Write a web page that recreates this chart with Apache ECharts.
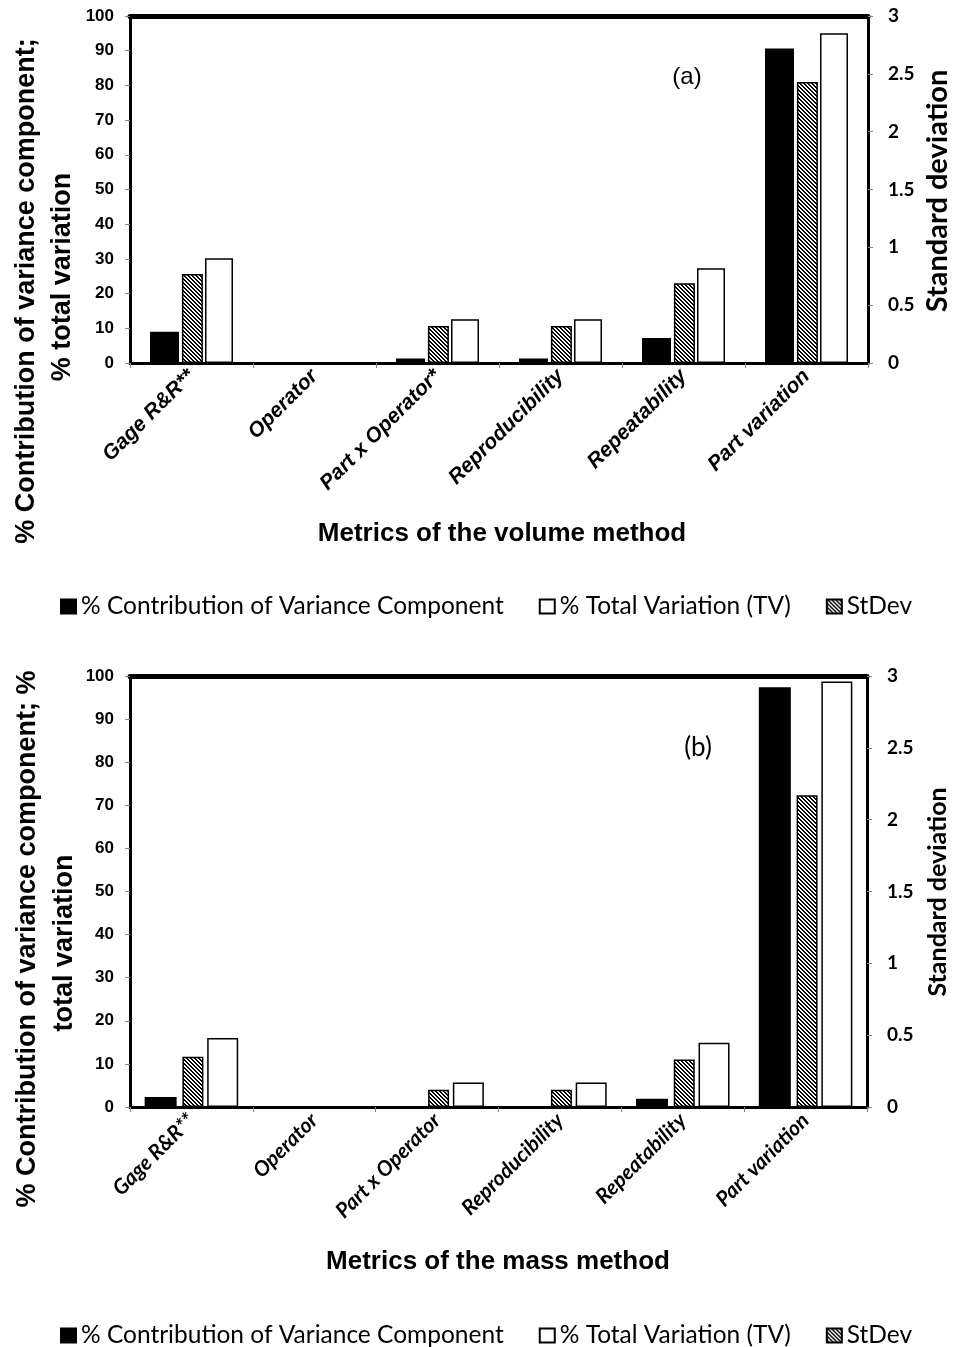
<!DOCTYPE html>
<html>
<head>
<meta charset="utf-8">
<script src="https://cdn.jsdelivr.net/npm/echarts@6/dist/echarts.min.js"></script>
<style>
  html, body { margin: 0; padding: 0; background: #fff; }
  #chart { width: 953px; height: 1347px; }
</style>
</head>
<body>
<div id="chart"></div>
<script>
// categories
const catsVolume = ['Gage R&R**', 'Operator', 'Part x Operator*', 'Reproducibility', 'Repeatability', 'Part variation'];
const catsMass = ['Gage R&R**', 'Operator', 'Part x Operator', 'Reproducibility', 'Repeatability', 'Part variation'];

// (a) volume method
const contribVolume = [9.0, 0, 1.3, 1.3, 7.2, 90.6];
const tvVolume = [30.2, 0, 12.6, 12.6, 27.3, 95.0];
const sdVolume = [0.77, 0, 0.32, 0.32, 0.69, 2.43];

// (b) mass method
const contribMass = [2.3, 0, 0, 0, 1.9, 97.4];
const tvMass = [16.0, 0, 5.7, 5.7, 14.9, 98.7];
const sdMass = [0.35, 0, 0.12, 0.12, 0.33, 2.17];

// axis ticks
const pctTicks = [0, 10, 20, 30, 40, 50, 60, 70, 80, 90, 100];
const sdTicks = [0, 0.5, 1, 1.5, 2, 2.5, 3];

const NAME_CONTRIB = '% Contribution of Variance Component';
const NAME_TV = '% Total Variation (TV)';
const NAME_SD = 'StDev';

const ARIAL = '"Liberation Sans", Arial, sans-serif';
const CALIBRI = 'Lato, "Open Sans", sans-serif';

// diagonal hatch for the StDev bars
const hatch = document.createElement('canvas');
hatch.width = 4;
hatch.height = 4;
const hctx = hatch.getContext('2d');
hctx.fillStyle = '#fff';
hctx.fillRect(0, 0, 4, 4);
hctx.fillStyle = '#000';
for (let i = 0; i < 4; i++) {
    hctx.fillRect(i, i, 1, 1);
    hctx.fillRect((i + 1) % 4, i, 1, 1);
}
const hatchFill = { image: hatch, repeat: 'repeat' };

const chart = echarts.init(document.getElementById('chart'));

const tickStyle = { show: true, length: 5, lineStyle: { color: '#888', width: 1 } };

function pctAxis(gridIndex) {
    return {
        type: 'value', gridIndex, position: 'left',
        min: pctTicks[0], max: pctTicks[pctTicks.length - 1], interval: pctTicks[1] - pctTicks[0],
        axisLine: { show: true, lineStyle: { color: '#000', width: 3 } },
        axisTick: tickStyle,
        splitLine: { show: false },
        axisLabel: { margin: 16, color: '#000', fontFamily: ARIAL, fontWeight: 'bold', fontSize: 17 }
    };
}

function sdAxis(gridIndex) {
    return {
        type: 'value', gridIndex, position: 'right',
        min: sdTicks[0], max: sdTicks[sdTicks.length - 1], interval: sdTicks[1] - sdTicks[0],
        axisLine: { show: true, lineStyle: { color: '#000', width: 3 } },
        axisTick: tickStyle,
        splitLine: { show: false },
        axisLabel: { margin: 20, color: '#000', fontFamily: CALIBRI, fontWeight: 'bold', fontSize: 19 }
    };
}

function catAxis(gridIndex, cats, font, size) {
    return {
        type: 'category', gridIndex, position: 'bottom', data: cats,
        axisLine: { show: true, onZero: false, lineStyle: { color: '#000', width: 3 } },
        axisTick: tickStyle,
        axisLabel: {
            interval: 0, rotate: 45, margin: 10, color: '#000',
            fontFamily: font, fontWeight: 'bold', fontStyle: 'italic', fontSize: size
        }
    };
}

function topAxis(gridIndex, cats) {
    return {
        type: 'category', gridIndex, position: 'top', data: cats,
        axisLine: { show: true, onZero: false, lineStyle: { color: '#000', width: 5 } },
        axisTick: { show: false }, axisLabel: { show: false }
    };
}

function bars(xi, pctYi, sdYi, contrib, sd, tv, widths, gap) {
    const border = { borderColor: '#000', borderWidth: 1.5 };
    return [
        { name: NAME_CONTRIB, type: 'bar', xAxisIndex: xi, yAxisIndex: pctYi, data: contrib,
          barWidth: widths[0], barGap: gap, itemStyle: Object.assign({ color: '#000' }, border) },
        { name: NAME_SD, type: 'bar', xAxisIndex: xi, yAxisIndex: sdYi, data: sd,
          barWidth: widths[1], barGap: gap, itemStyle: Object.assign({ color: hatchFill }, border) },
        { name: NAME_TV, type: 'bar', xAxisIndex: xi, yAxisIndex: pctYi, data: tv,
          barWidth: widths[2], barGap: gap, itemStyle: Object.assign({ color: '#fff' }, border) }
    ];
}

function legend(top) {
    return {
        top, left: 55, itemWidth: 15, itemHeight: 14, itemGap: 35, selectedMode: false,
        icon: 'rect',
        data: [NAME_CONTRIB, NAME_TV, NAME_SD],
        textStyle: { fontFamily: CALIBRI, fontSize: 24.5, color: '#000' }
    };
}

function vText(x, y, text, font, size, weight) {
    return {
        type: 'text', x, y, rotation: Math.PI / 2,
        style: { text, fontFamily: font, fontSize: size, fontWeight: weight || 'bold',
                 fill: '#000', textAlign: 'center', textVerticalAlign: 'middle' }
    };
}

function hText(x, y, text, font, size, weight) {
    return {
        type: 'text', x, y,
        style: { text, fontFamily: font, fontSize: size, fontWeight: weight || 'bold',
                 fill: '#000', textAlign: 'center', textVerticalAlign: 'middle' }
    };
}

const option = {
    animation: false,
    backgroundColor: '#fff',
    grid: [
        { left: 130, top: 16, width: 738, height: 347 },
        { left: 130, top: 676, width: 737, height: 431 }
    ],
    xAxis: [
        catAxis(0, catsVolume, ARIAL, 21),
        topAxis(0, catsVolume),
        catAxis(1, catsMass, CALIBRI, 21),
        topAxis(1, catsMass)
    ],
    yAxis: [pctAxis(0), sdAxis(0), pctAxis(1), sdAxis(1)],
    legend: [legend(589), legend(1318)],
    series: [
        ...bars(0, 0, 1, contribVolume, sdVolume, tvVolume, [29, 21, 28], '10%'),
        ...bars(2, 2, 3, contribMass, sdMass, tvMass, [32, 21, 31], '18%')
    ],
    graphic: [
        vText(27, 291, '% Contribution of variance component;', ARIAL, 27),
        vText(63, 277, '% total variation', ARIAL, 27),
        vText(938, 191, 'Standard deviation', CALIBRI, 29),
        hText(502, 534, 'Metrics of the volume method', ARIAL, 26),
        hText(687, 77, '(a)', ARIAL, 24, 'normal'),

        vText(28, 939, '% Contribution of variance component; %', ARIAL, 27),
        vText(65, 943, 'total variation', ARIAL, 27),
        vText(938, 892, 'Standard deviation', CALIBRI, 25),
        hText(498, 1262, 'Metrics of the mass method', ARIAL, 26),
        hText(698, 748, '(b)', CALIBRI, 26, 'normal')
    ]
};

chart.setOption(option);
</script>
</body>
</html>
